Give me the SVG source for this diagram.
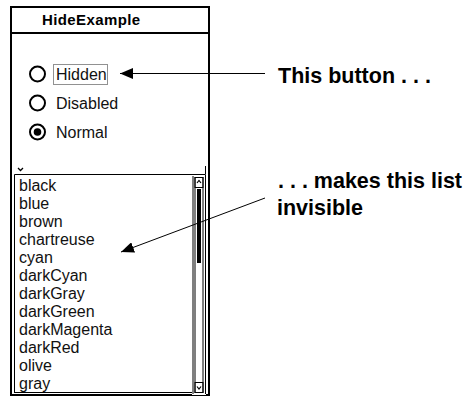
<svg xmlns="http://www.w3.org/2000/svg" width="466" height="398" viewBox="0 0 466 398">
  <style>
    .ui { font-family: "Liberation Sans", Arial, sans-serif; font-size: 16px; fill: #111; }
    .title { font-family: "Liberation Sans", Arial, sans-serif; font-size: 15px; font-weight: bold; fill: #000; }
    .note { font-family: "Liberation Sans", Arial, sans-serif; font-size: 21.5px; font-weight: bold; fill: #000; }
    .frame { fill: none; stroke: #000; stroke-width: 2; }
    .thin { fill: none; stroke: #000; stroke-width: 1; }
    .radio { fill: #fff; stroke: #000; stroke-width: 2; }
    .conn { fill: none; stroke: #000; stroke-width: 1; }
  </style>
  <defs>
    <marker id="head" viewBox="0 0 13 11" markerWidth="13" markerHeight="11" refX="13" refY="5.5" orient="auto" markerUnits="userSpaceOnUse">
      <path d="M0,0 L13,5.5 L0,11 z" fill="#000"/>
    </marker>
  </defs>
  <rect width="466" height="398" fill="#fff"/>

  <!-- application window -->
  <g id="window">
    <rect class="frame" x="11" y="7" width="198" height="388"/>
    <line class="frame" x1="11" y1="33" x2="209" y2="33"/>
    <text class="title" x="42" y="25" letter-spacing="0.4">HideExample</text>
  </g>

  <!-- radio group -->
  <g id="radio-hidden">
    <circle class="radio" cx="37.5" cy="74" r="7.5"/>
    <rect x="53.5" y="64.5" width="54" height="20" fill="none" stroke="#222" stroke-width="1" stroke-dasharray="1,1"/>
    <text class="ui" x="56" y="80">Hidden</text>
  </g>
  <g id="radio-disabled">
    <circle class="radio" cx="37.5" cy="103" r="7.5"/>
    <text class="ui" x="56" y="109">Disabled</text>
  </g>
  <g id="radio-normal">
    <circle class="radio" cx="37.5" cy="132" r="7.5"/>
    <circle cx="37.5" cy="132" r="3.8" fill="#000"/>
    <text class="ui" x="56" y="138">Normal</text>
  </g>

  <!-- scrolling list -->
  <g id="color-list">
    <path class="thin" d="M14.5,393 V174.5 H205.5 V166"/>
    <path d="M18,168 L20.5,170.5 L23,168" fill="none" stroke="#000" stroke-width="1.3"/>
    <line class="thin" x1="14.5" y1="392.5" x2="193" y2="392.5"/>
    <g class="ui">
      <text x="19" y="191">black</text>
      <text x="19" y="209">blue</text>
      <text x="19" y="227">brown</text>
      <text x="19" y="245">chartreuse</text>
      <text x="19" y="263">cyan</text>
      <text x="19" y="281">darkCyan</text>
      <text x="19" y="299">darkGray</text>
      <text x="19" y="317">darkGreen</text>
      <text x="19" y="335">darkMagenta</text>
      <text x="19" y="353">darkRed</text>
      <text x="19" y="371">olive</text>
      <text x="19" y="389">gray</text>
    </g>
    <!-- vertical scrollbar -->
    <rect x="192" y="175" width="14" height="220" fill="#fff"/>
    <line class="thin" x1="193" y1="176" x2="193" y2="394"/>
    <line class="thin" x1="195" y1="177" x2="195" y2="393"/>
    <line class="thin" x1="203" y1="177" x2="203" y2="393"/>
    <line class="thin" x1="205.5" y1="175" x2="205.5" y2="394"/>
    <rect class="thin" x="195" y="177.5" width="8" height="10"/>
    <path d="M197,183 L199,180.5 L201,183" fill="none" stroke="#000" stroke-width="1.2"/>
    <rect x="197" y="189" width="4" height="74" fill="#000"/>
    <rect class="thin" x="195" y="382.5" width="8" height="10"/>
    <path d="M197,386.5 L199,389 L201,386.5" fill="none" stroke="#000" stroke-width="1.2"/>
  </g>

  <!-- callout labels -->
  <g id="note-button">
    <text class="note" x="278" y="83">This button . . .</text>
  </g>
  <g id="note-list">
    <text class="note" x="278" y="188">. . . makes this list</text>
    <text class="note" x="277" y="215">invisible</text>
  </g>

  <!-- connectors -->
  <g id="connectors">
    <line class="conn" x1="265" y1="73.5" x2="120" y2="73.5" marker-end="url(#head)"/>
    <line class="conn" x1="265" y1="198" x2="121" y2="252" marker-end="url(#head)"/>
  </g>
</svg>
